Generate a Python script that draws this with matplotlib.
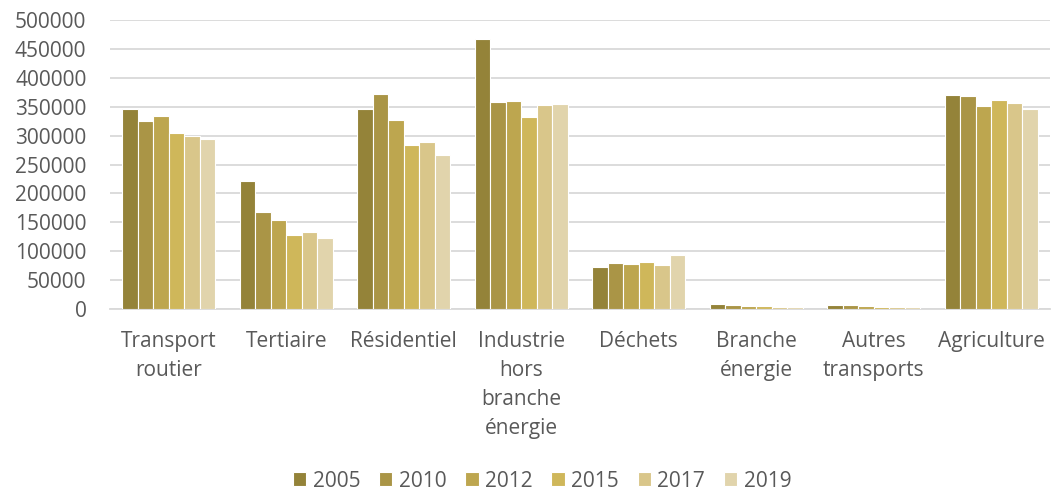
import matplotlib
matplotlib.use("Agg")
import matplotlib.pyplot as plt
import numpy as np

categories = ["Transport\nroutier", "Tertiaire", "Résidentiel", "Industrie\nhors\nbranche\nénergie",
              "Déchets", "Branche\nénergie", "Autres\ntransports", "Agriculture"]
years = ["2005", "2010", "2012", "2015", "2017", "2019"]
values = {
    "2005": [345500, 220900, 346000, 467100, 72100, 8100, 6900, 370800],
    "2010": [324700, 168300, 371400, 358100, 79600, 6400, 6900, 368000],
    "2012": [333400, 154500, 327000, 359900, 78400, 5800, 5700, 351200],
    "2015": [305000, 128000, 283200, 331600, 80800, 4700, 3500, 361100],
    "2017": [298800, 132700, 288400, 353500, 75600, 3500, 2900, 356400],
    "2019": [294100, 122800, 265900, 354100, 92900, 4000, 2900, 346000],
}
colors = ["#948339", "#AA9546", "#BDA64F", "#CFB75A", "#D9C68A", "#E1D4AC"]

plt.rcParams['font.family'] = ['Open Sans', 'DejaVu Sans']
fig = plt.figure(figsize=(10.52, 4.9), dpi=100)
ax = fig.add_axes([110/1052, 1 - 309/490, (1050-110)/1052, 289/490])

x = np.arange(len(categories))
slot = 0.132
for i, yr in enumerate(years):
    ax.bar(x + (i - 2.5) * slot, values[yr], width=slot, color=colors[i],
           edgecolor="white", linewidth=0.8, label=yr, zorder=3)

ax.set_xlim(-0.5, len(categories) - 0.5)
ax.set_ylim(0, 500000)
ax.set_yticks(np.arange(0, 500001, 50000))
ax.set_yticklabels([str(v) for v in range(0, 500001, 50000)])
ax.set_xticks(x)
ax.set_xticklabels(categories, linespacing=1.5)
ax.tick_params(axis="both", length=0, labelsize=15, colors="#595959")
ax.tick_params(axis="x", pad=16)
ax.tick_params(axis="y", pad=17)
ax.grid(axis="y", color="#D9D9D9", linewidth=1.3, zorder=0)
for s in ["top", "right", "left"]:
    ax.spines[s].set_visible(False)
ax.spines["bottom"].set_color("#D9D9D9")
ax.spines["bottom"].set_linewidth(1.3)

leg = fig.legend(loc="center", bbox_to_anchor=(542/1052, 1 - 481/490), ncol=6,
                 frameon=False, fontsize=15, handlelength=0.65, handleheight=0.65,
                 handletextpad=0.3, columnspacing=0.9)
for t in leg.get_texts():
    t.set_color("#595959")

fig.savefig("out.png", dpi=100)
